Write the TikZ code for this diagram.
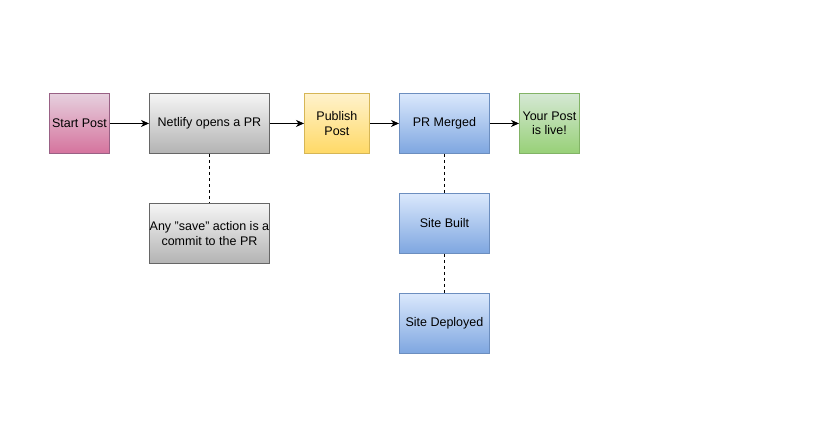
\documentclass[tikz,border=0pt]{standalone}
\usepackage{fontspec}
\setmainfont{Liberation Sans}
\usetikzlibrary{arrows.meta,shadings}
\definecolor{pinkT}{HTML}{E6D0DE}\definecolor{pinkB}{HTML}{D5739D}\definecolor{pinkS}{HTML}{996185}
\definecolor{grayT}{HTML}{F5F5F5}\definecolor{grayB}{HTML}{B3B3B3}\definecolor{grayS}{HTML}{666666}
\definecolor{yelT}{HTML}{FFF2CC}\definecolor{yelB}{HTML}{FFD966}\definecolor{yelS}{HTML}{D6B656}
\definecolor{bluT}{HTML}{DAE8FC}\definecolor{bluB}{HTML}{7EA6E0}\definecolor{bluS}{HTML}{6C8EBF}
\definecolor{grnT}{HTML}{D5E8D4}\definecolor{grnB}{HTML}{97D077}\definecolor{grnS}{HTML}{82B366}
\tikzset{
  box/.style={draw, line width=0.9pt, minimum height=60pt, inner sep=0pt, align=center, font=\fontsize{12.5}{14.5}\selectfont, anchor=north west},
  pinkbox/.style={box, draw=pinkS, top color=pinkT, bottom color=pinkB},
  graybox/.style={box, draw=grayS, top color=grayT, bottom color=grayB},
  yelbox/.style={box, draw=yelS, top color=yelT, bottom color=yelB},
  blubox/.style={box, draw=bluS, top color=bluT, bottom color=bluB},
  grnbox/.style={box, draw=grnS, top color=grnT, bottom color=grnB},
  flow/.style={draw=black, line width=0.9pt, -{Stealth[length=8pt,width=7pt,inset=2.5pt]}},
  dotlink/.style={draw=black, line width=0.9pt, dash pattern=on 3pt off 3pt}
}
\begin{document}
\begin{tikzpicture}[x=1pt,y=-1pt]
\useasboundingbox (0,0) rectangle (836,436);
\node[pinkbox, minimum width=60pt] (start) at (49,93) {Start Post};
\node[graybox, minimum width=120pt] (pr) at (149,93) {Netlify opens a PR};
\node[graybox, minimum width=120pt] (save) at (149,203) {Any \symbol{34}save\symbol{34} action is a\\commit to the PR};
\node[yelbox, minimum width=65pt] (pub) at (304,93) {Publish\\Post};
\node[blubox, minimum width=90pt] (merged) at (399,93) {PR Merged};
\node[grnbox, minimum width=60pt] (live) at (519,93) {Your Post\\is live!};
\node[blubox, minimum width=90pt] (built) at (399,193) {Site Built};
\node[blubox, minimum width=90pt] (deployed) at (399,293) {Site Deployed};
\draw[flow] (start) -- (pr);
\draw[flow] (pr) -- (pub);
\draw[flow] (pub) -- (merged);
\draw[flow] (merged) -- (live);
\draw[dotlink] (pr) -- (save);
\draw[dotlink] (merged) -- (built);
\draw[dotlink] (built) -- (deployed);
\end{tikzpicture}
\end{document}
